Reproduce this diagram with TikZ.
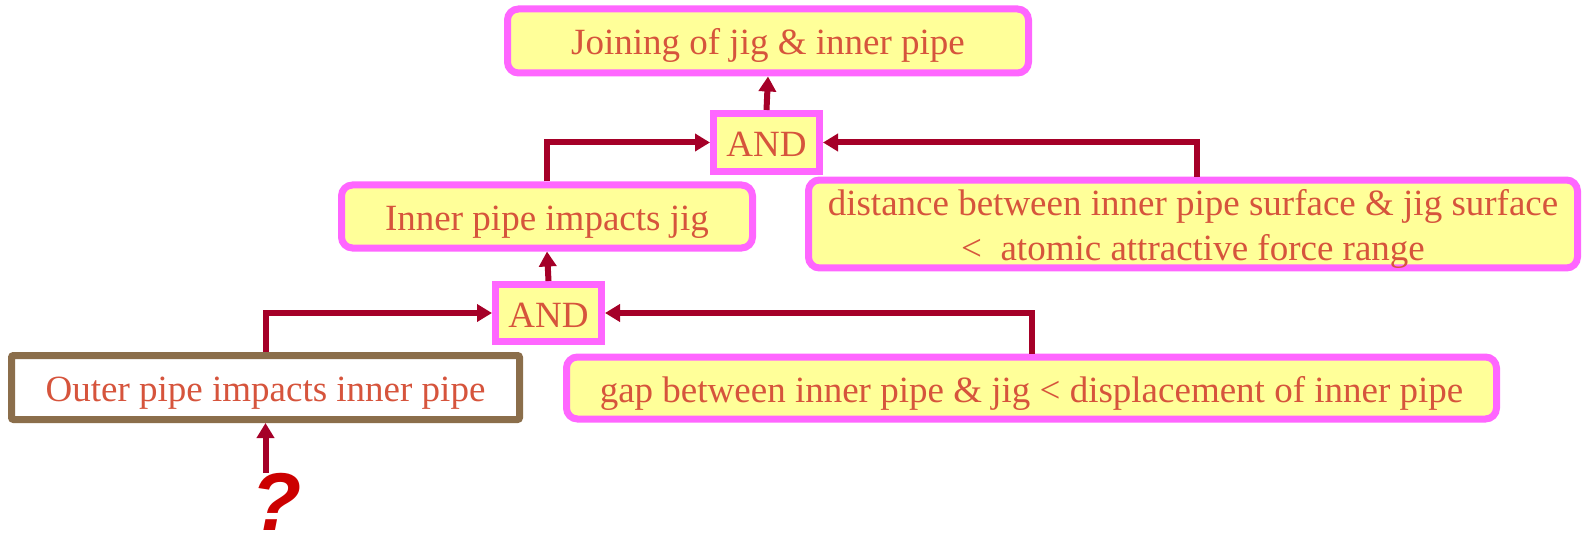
\documentclass[tikz,border=0pt]{standalone}
\usepackage{fontspec}
\setmainfont{Liberation Serif}
\newfontfamily\qfont{Liberation Sans}
\usetikzlibrary{arrows.meta}
\definecolor{boxpink}{RGB}{255,102,255}
\definecolor{boxyellow}{RGB}{255,255,153}
\definecolor{txtred}{RGB}{214,84,60}
\definecolor{linkred}{RGB}{165,0,40}
\definecolor{boxbrown}{RGB}{139,110,75}
\definecolor{qred}{RGB}{204,0,0}
\tikzset{
  boxtext/.style={inner sep=0pt, text=txtred, font=\fontsize{37}{45}\selectfont},
  oneline/.style={text height=30pt, text depth=2pt},
  fact/.style={boxtext, draw=boxpink, fill=boxyellow, line width=7pt, rounded corners=11pt},
  gate/.style={boxtext, oneline, draw=boxpink, fill=boxyellow, line width=7pt},
  event/.style={boxtext, oneline, draw=boxbrown, fill=white, line width=7pt, rounded corners=2pt},
  link/.style={draw=linkred, line width=6pt,
    -{Triangle[length=15pt,width=17pt]}}
}
\begin{document}
\begin{tikzpicture}[x=1pt,y=-1pt]
\useasboundingbox (0,0) rectangle (1584,540);

% boxes: results, gates, basic event
\node[fact, oneline, minimum width=521pt, minimum height=64pt] (top) at (768,41) {Joining of jig \& inner pipe};
\node[gate, minimum width=106pt, minimum height=58pt] (and1) at (766.5,142.5) {AND};
\node[fact, oneline, minimum width=411pt, minimum height=63pt] (inner) at (547,216.5) {Inner pipe impacts jig};
\node[fact, align=center, minimum width=769pt, minimum height=86pt] (dist) at (1193,224)
  {\rule{0pt}{35pt}distance between inner pipe surface \& jig surface\\<\ \ atomic attractive force range};
\node[gate, minimum width=106pt, minimum height=57pt] (and2) at (548.5,313) {AND};
\node[event, minimum width=508pt, minimum height=64pt] (outer) at (265.5,387.5) {Outer pipe impacts inner pipe};
\node[fact, oneline, minimum width=930pt, minimum height=62pt] (gap) at (1031.5,388)
  {gap between inner pipe \& jig < displacement of inner pipe};
\node[text=qred, font=\qfont\bfseries\itshape\fontsize{82}{82}\selectfont, inner sep=0pt] (q) at (277,502) {?};

% connectors
\draw[link] (and1.north) -- (top.south);
\draw[link] (inner.north) |- (and1.west);
\draw[link] ([xshift=4pt]dist.north) |- (and1.east);
\draw[link] (and2.north) -- (inner.south);
\draw[link] (outer.north) |- (and2.west);
\draw[link] (gap.north) |- (and2.east);
\draw[link] (q.north -| outer.south) -- (outer.south);
\end{tikzpicture}
\end{document}
